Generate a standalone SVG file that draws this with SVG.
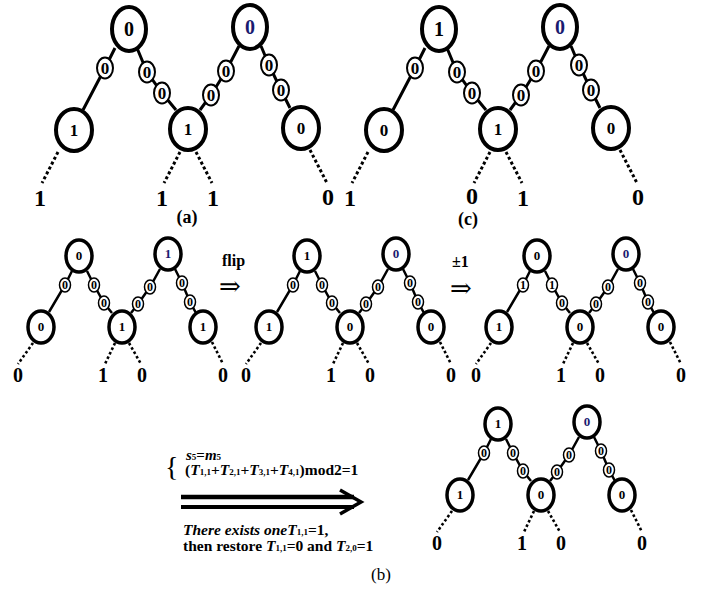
<svg xmlns="http://www.w3.org/2000/svg" width="718" height="591" viewBox="0 0 718 591">
<style>
.big{fill:#fff;stroke:#000;stroke-width:4}
.sm{fill:#fff;stroke:#000;stroke-width:2}
.ln{fill:none;stroke:#000;stroke-width:3}
.dot{fill:none;stroke:#000;stroke-width:3;stroke-dasharray:3 2.5}
.bigs{fill:#fff;stroke:#000;stroke-width:3.5}
.sms{fill:#fff;stroke:#000;stroke-width:1.5}
.lns{fill:none;stroke:#000;stroke-width:2.5}
.dots{fill:none;stroke:#000;stroke-width:2.6;stroke-dasharray:2.6 2.4}
text{font-family:"Liberation Serif","Times New Roman",serif;font-weight:bold;text-anchor:middle;fill:#000}
.blue{fill:#1a1a70}
.r20{font-size:20px}.r17{font-size:17px}.r25{font-size:24px}
.m13{font-size:13px}.m12{font-size:12px}.m20{font-size:20px}
.lt{text-anchor:start}
.arr{font-family:"DejaVu Serif",serif;font-weight:normal;font-size:26px}
</style>
<defs>
<g id="treeA">
 <g id="connA">
  <polyline class="ln" points="115,48 105,68 83,110"/>
  <polyline class="ln" points="137,48 147,72 162,93 176,110"/>
  <polyline class="ln" points="239,46 226,71 211,95 200,110"/>
  <polyline class="ln" points="261,46 269,65 281,90 290,108"/>
  <line class="dot" x1="58" y1="152" x2="42" y2="183"/>
  <line class="dot" x1="180" y1="152" x2="164" y2="183"/>
  <line class="dot" x1="196" y1="152" x2="212" y2="183"/>
  <line class="dot" x1="310" y1="150" x2="327" y2="183"/>
 </g>
 <ellipse class="sm" cx="105" cy="68" rx="8" ry="10.5"/><text class="r17" x="105" y="74">0</text>
 <ellipse class="sm" cx="147" cy="72" rx="8" ry="10.5"/><text class="r17" x="147" y="78">0</text>
 <ellipse class="sm" cx="162" cy="93" rx="8" ry="10.5"/><text class="r17" x="162" y="99">0</text>
 <ellipse class="sm" cx="226" cy="71" rx="8" ry="10.5"/><text class="r17" x="226" y="77">0</text>
 <ellipse class="sm" cx="211" cy="95" rx="8" ry="10.5"/><text class="r17" x="211" y="101">0</text>
 <ellipse class="sm" cx="269" cy="65" rx="8" ry="10.5"/><text class="r17" x="269" y="71">0</text>
 <ellipse class="sm" cx="281" cy="90" rx="8" ry="10.5"/><text class="r17" x="281" y="96">0</text>
 <ellipse class="big" cx="129" cy="29" rx="17" ry="22"/>
 <ellipse class="big" cx="250" cy="27" rx="17" ry="22"/>
 <ellipse class="big" cx="74" cy="130" rx="18" ry="21"/>
 <ellipse class="big" cx="188" cy="129" rx="18" ry="21"/>
 <ellipse class="big" cx="301" cy="128" rx="18" ry="21"/>
</g>
<g id="treeB">
 <g id="connB">
  <polyline class="lns" points="72,271 65,285 49,312"/>
  <polyline class="lns" points="87,271 94,285 104,303 112,313"/>
  <polyline class="lns" points="160,269 150,287 138,304 131,313"/>
  <polyline class="lns" points="175,269 182,283 190,302 196,313"/>
  <line class="dots" x1="33" y1="343" x2="18" y2="364"/>
  <line class="dots" x1="115" y1="343" x2="105" y2="364"/>
  <line class="dots" x1="129" y1="343" x2="141" y2="364"/>
  <line class="dots" x1="212" y1="342" x2="223" y2="364"/>
 </g>
 <ellipse class="sms" cx="65" cy="285" rx="5.5" ry="7"/>
 <ellipse class="sms" cx="94" cy="285" rx="5.5" ry="7"/>
 <ellipse class="sms" cx="104" cy="303" rx="5.5" ry="7"/>
 <ellipse class="sms" cx="150" cy="287" rx="5.5" ry="7"/>
 <ellipse class="sms" cx="138" cy="304" rx="5.5" ry="7"/>
 <ellipse class="sms" cx="182" cy="283" rx="5.5" ry="7"/>
 <ellipse class="sms" cx="190" cy="302" rx="5.5" ry="7"/>
 <ellipse class="bigs" cx="79" cy="256" rx="13" ry="16"/>
 <ellipse class="bigs" cx="168" cy="254" rx="13" ry="16"/>
 <ellipse class="bigs" cx="41" cy="327" rx="13" ry="16"/>
 <ellipse class="bigs" cx="122" cy="327" rx="13" ry="16"/>
 <ellipse class="bigs" cx="203" cy="327" rx="13" ry="16"/>
 <text class="m20" x="18" y="382">0</text>
 <text class="m20" x="103" y="382">1</text>
 <text class="m20" x="142" y="382">0</text>
 <text class="m20" x="223" y="382">0</text>
</g>
</defs>

<!-- Tree (a) -->
<g id="tree-a">
 <use href="#treeA"/>
 <g id="a-root1"><text class="r20" x="129" y="36">0</text></g>
 <g id="a-root2"><text class="r20 blue" x="250" y="34">0</text></g>
 <g id="a-leaf1"><text class="r17" x="74" y="136">1</text></g>
 <g id="a-leaf2"><text class="r17" x="188" y="135">1</text></g>
 <g id="a-leaf3"><text class="r17" x="301" y="134">0</text></g>
 <g id="a-out">
  <text class="r25" x="40" y="206">1</text>
  <text class="r25" x="162" y="206">1</text>
  <text class="r25" x="213" y="206">1</text>
  <text class="r25" x="328" y="205">0</text>
 </g>
 <text x="187" y="223" style="font-size:18px">(a)</text>
</g>

<!-- Tree (c) -->
<g id="tree-c">
 <use href="#treeA" x="310"/>
 <g id="c-root1"><text class="r20" x="439" y="36">1</text></g>
 <g id="c-root2"><text class="r20 blue" x="560" y="34">0</text></g>
 <g id="c-leaf1"><text class="r17" x="384" y="136">0</text></g>
 <g id="c-leaf2"><text class="r17" x="498" y="135">1</text></g>
 <g id="c-leaf3"><text class="r17" x="611" y="134">0</text></g>
 <g id="c-out">
  <text class="r25" x="350" y="206">1</text>
  <text class="r25" x="472" y="204">0</text>
  <text class="r25" x="523" y="206">1</text>
  <text class="r25" x="638" y="205">0</text>
 </g>
 <text x="468" y="225" style="font-size:18px">(c)</text>
</g>

<!-- Tree b1 -->
<g id="tree-b1">
 <use href="#treeB"/>
 <g id="b1-edges">
  <text class="m12" x="65" y="289">0</text><text class="m12" x="94" y="289">0</text><text class="m12" x="104" y="307">0</text>
  <text class="m12" x="150" y="291">0</text><text class="m12" x="138" y="308">0</text><text class="m12" x="182" y="287">0</text><text class="m12" x="190" y="306">0</text>
 </g>
 <g id="b1-root1"><text class="m13" x="79" y="260">0</text></g>
 <g id="b1-root2"><text class="m13 blue" x="168" y="258">1</text></g>
 <g id="b1-leaf1"><text class="m13" x="41" y="331">0</text></g>
 <g id="b1-leaf2"><text class="m13" x="122" y="331">1</text></g>
 <g id="b1-leaf3"><text class="m13" x="203" y="331">1</text></g>
</g>

<g id="op-flip">
 <text class="lt" x="222" y="266" style="font-size:16px">flip</text>
 <text class="lt arr" x="219" y="295">⇒</text>
</g>

<!-- Tree b2 -->
<g id="tree-b2" transform="translate(228,0)">
 <use href="#treeB"/>
 <g id="b2-edges">
  <text class="m12" x="65" y="289">0</text><text class="m12" x="94" y="289">0</text><text class="m12" x="104" y="307">0</text>
  <text class="m12" x="150" y="291">0</text><text class="m12" x="138" y="308">0</text><text class="m12" x="182" y="287">0</text><text class="m12" x="190" y="306">0</text>
 </g>
 <g id="b2-root1"><text class="m13" x="79" y="260">1</text></g>
 <g id="b2-root2"><text class="m13 blue" x="168" y="258">0</text></g>
 <g id="b2-leaf1"><text class="m13" x="41" y="331">1</text></g>
 <g id="b2-leaf2"><text class="m13" x="122" y="331">0</text></g>
 <g id="b2-leaf3"><text class="m13" x="203" y="331">0</text></g>
</g>

<g id="op-pm">
 <text class="lt" x="452" y="267" style="font-size:16px">±1</text>
 <text class="lt arr" x="450" y="297">⇒</text>
</g>

<!-- Tree b3 -->
<g id="tree-b3" transform="translate(458,0)">
 <use href="#treeB"/>
 <g id="b3-edges">
  <text class="m12" x="65" y="289">1</text><text class="m12" x="94" y="289">1</text><text class="m12" x="104" y="307">0</text>
  <text class="m12" x="150" y="291">0</text><text class="m12" x="138" y="308">0</text><text class="m12" x="182" y="287">0</text><text class="m12" x="190" y="306">0</text>
 </g>
 <g id="b3-root1"><text class="m13" x="79" y="260">0</text></g>
 <g id="b3-root2"><text class="m13 blue" x="168" y="258">0</text></g>
 <g id="b3-leaf1"><text class="m13" x="41" y="331">1</text></g>
 <g id="b3-leaf2"><text class="m13" x="122" y="331">0</text></g>
 <g id="b3-leaf3"><text class="m13" x="203" y="331">0</text></g>
</g>

<!-- Tree b4 -->
<g id="tree-b4" transform="translate(419,168)">
 <use href="#treeB"/>
 <g id="b4-edges">
  <text class="m12" x="65" y="289">0</text><text class="m12" x="94" y="289">0</text><text class="m12" x="104" y="307">0</text>
  <text class="m12" x="150" y="291">0</text><text class="m12" x="138" y="308">0</text><text class="m12" x="182" y="287">0</text><text class="m12" x="190" y="306">0</text>
 </g>
 <g id="b4-root1"><text class="m13" x="79" y="260">1</text></g>
 <g id="b4-root2"><text class="m13 blue" x="168" y="258">0</text></g>
 <g id="b4-leaf1"><text class="m13" x="41" y="331">1</text></g>
 <g id="b4-leaf2"><text class="m13" x="122" y="331">0</text></g>
 <g id="b4-leaf3"><text class="m13" x="203" y="331">0</text></g>
</g>

<!-- Condition block -->
<g id="condition">
 <text class="lt" x="165" y="476" style="font-weight:normal;font-size:28px">{</text>
 <text class="lt" x="186" y="460" style="font-size:15px"><tspan font-style="italic">s</tspan><tspan font-size="9">5</tspan>=<tspan font-style="italic">m</tspan><tspan font-size="9">5</tspan></text>
 <text class="lt" x="185" y="475" style="font-size:15.5px">(<tspan font-style="italic">T</tspan><tspan font-size="9">1,1</tspan>+<tspan font-style="italic">T</tspan><tspan font-size="9">2,1</tspan>+<tspan font-style="italic">T</tspan><tspan font-size="9">3,1</tspan>+<tspan font-style="italic">T</tspan><tspan font-size="9">4,1</tspan>)mod2=1</text>
 <g id="dbl-arrow">
  <line x1="181" y1="497" x2="354" y2="497" stroke="#000" stroke-width="4.5"/>
  <line x1="181" y1="507" x2="354" y2="507" stroke="#000" stroke-width="4"/>
  <polyline points="340,490 361,502 340,514" fill="none" stroke="#000" stroke-width="3.5"/>
 </g>
 <text class="lt" x="183" y="535" style="font-size:15.5px"><tspan font-style="italic">There exists one</tspan><tspan font-style="italic">T</tspan><tspan font-size="9">1,1</tspan>=1,</text>
 <text class="lt" x="183" y="551" style="font-size:15.5px">then restore <tspan font-style="italic">T</tspan><tspan font-size="9">1,1</tspan>=0 and <tspan font-style="italic">T</tspan><tspan font-size="9">2,0</tspan>=1</text>
 <text x="381" y="580" style="font-weight:normal;font-size:17px">(b)</text>
</g>
</svg>
